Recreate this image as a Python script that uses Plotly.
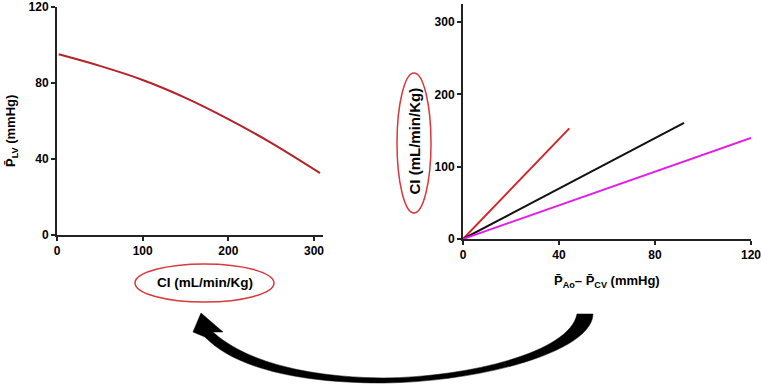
import plotly.graph_objects as go

# ---------------- data ----------------
ci_left = [2, 50, 100, 150, 200, 250, 307]
plv_left = [95.1, 89.0, 81.6, 72.2, 61.0, 48.5, 32.6]

dp_red = [0, 44.3]
ci_red = [0, 153]
dp_black = [0, 92.1]
ci_black = [0, 160.6]
dp_mag = [0, 120]
ci_mag = [0, 139.8]

left_xticks = [0, 100, 200, 300]
left_yticks = [0, 40, 80, 120]
right_xticks = [0, 40, 80, 120]
right_yticks = [0, 100, 200, 300]

# ---------------- helpers (pixel -> paper) ----------------
W, H = 761, 385
def px(x):
    return x / W
def py(y):
    return 1 - y / H

FONT = "Liberation Sans, Arial, sans-serif"

fig = go.Figure()
fig.add_trace(go.Scatter(x=ci_left, y=plv_left, mode="lines", line=dict(color="#b3232a", width=2, shape="spline", smoothing=1),
                         xaxis="x", yaxis="y", cliponaxis=False, showlegend=False))
fig.add_trace(go.Scatter(x=dp_red, y=ci_red, mode="lines", line=dict(color="#d3262b", width=2),
                         xaxis="x2", yaxis="y2", cliponaxis=False, showlegend=False))
fig.add_trace(go.Scatter(x=dp_black, y=ci_black, mode="lines", line=dict(color="#111111", width=2),
                         xaxis="x2", yaxis="y2", cliponaxis=False, showlegend=False))
fig.add_trace(go.Scatter(x=dp_mag, y=ci_mag, mode="lines", line=dict(color="#e21de6", width=2),
                         xaxis="x2", yaxis="y2", cliponaxis=False, showlegend=False))

axis_common = dict(showline=True, linecolor="#222222", linewidth=2, ticks="outside", ticklen=4, tickwidth=2,
                   tickcolor="#222222", showgrid=False, zeroline=False, ticklabeloverflow="allow",
                   automargin=False,
                   tickfont=dict(family=FONT, size=12, color="black", weight="bold"), fixedrange=True)

fig.update_layout(
    width=W, height=H,
    margin=dict(l=0, r=0, t=0, b=0, pad=0, autoexpand=False),
    paper_bgcolor="white", plot_bgcolor="white",
    xaxis=dict(domain=[px(57), px(322.6)], range=[0, 310], anchor="y", tickvals=left_xticks, **axis_common),
    yaxis=dict(domain=[py(235), py(7)], range=[0, 120], anchor="x", tickvals=left_yticks, **axis_common),
    xaxis2=dict(domain=[px(463), px(751)], range=[0, 120], anchor="y2", tickvals=right_xticks, **axis_common),
    yaxis2=dict(domain=[py(239), py(4)], range=[0, 325], anchor="x2", tickvals=right_yticks, **axis_common),
)

annotations = [
    dict(x=px(11), y=py(131), text="<b>P\u0304<sub>LV</sub> (mmHg)</b>", textangle=-90,
         font=dict(family=FONT, size=13, color="black")),
    dict(x=px(205), y=py(282), text="<b>CI (mL/min/Kg)</b>",
         font=dict(family=FONT, size=13.5, color="black")),
    dict(x=px(414), y=py(140.5), text="<b>CI (mL/min/Kg)</b>", textangle=-90,
         font=dict(family=FONT, size=15, color="black")),
    dict(x=px(607), y=py(281), text="<b>P\u0304<sub>Ao</sub>\u2013 P\u0304<sub>CV</sub> (mmHg)</b>",
         font=dict(family=FONT, size=13, color="black")),
]
for a in annotations:
    a.update(xref="paper", yref="paper", showarrow=False, xanchor="center", yanchor="middle")
fig.update_layout(annotations=annotations)

# red ellipses
shapes = [
    dict(type="circle", xref="paper", yref="paper", x0=px(135), x1=px(274), y0=py(302), y1=py(264),
         line=dict(color="#d9383c", width=1.5)),
    dict(type="circle", xref="paper", yref="paper", x0=px(397), x1=px(431), y0=py(213), y1=py(73),
         line=dict(color="#d9383c", width=1.5)),
]

def P(x, y):
    return f"{px(x):.5f},{py(y):.5f}"

arrow_path = (
    f"M {P(577,314)} L {P(593,314)} "
    f"C {P(592,352)} {P(480,382)} {P(383,383)} "
    f"C {P(290,383)} {P(232,365)} {P(205,337)} "
    f"L {P(193,332)} L {P(201,313)} L {P(223,332)} L {P(213,332)} "
    f"C {P(240,357)} {P(295,377)} {P(383,378)} "
    f"C {P(470,377)} {P(570,352)} {P(577,314)} Z"
)
shapes.append(dict(type="path", xref="paper", yref="paper", path=arrow_path,
                   fillcolor="black", line=dict(color="black", width=0.5)))
fig.update_layout(shapes=shapes)

fig.write_html("out.html", config={"displayModeBar": False, "responsive": False},
               post_script="document.body.style.margin='0px';document.body.style.overflow='hidden';")
